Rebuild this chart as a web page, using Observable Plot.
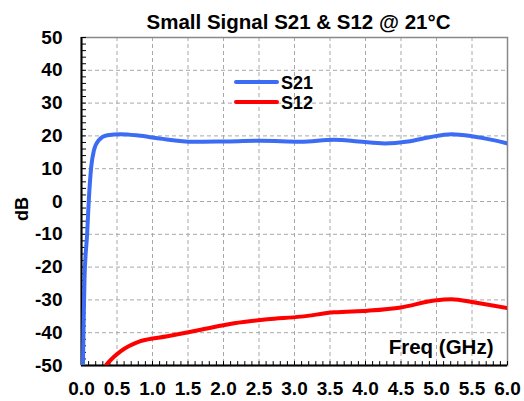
<!DOCTYPE html>
<html>
<head>
<meta charset="utf-8">
<script src="https://cdn.jsdelivr.net/npm/d3@7"></script>
<script src="https://cdn.jsdelivr.net/npm/@observablehq/plot@0.6"></script>
<style>
  html, body { margin: 0; padding: 0; background: #fff; }
  #wrap { position: relative; width: 524px; height: 401px; font-family: "Liberation Sans", Arial, sans-serif; }
  #legend { position: absolute; left: 0; top: 0; width: 524px; height: 401px; pointer-events: none; }
</style>
</head>
<body>
<div id="wrap"></div>
<script>
const title = "Small Signal S21 & S12 @ 21°C";
const xLabel = "Freq (GHz)";
const yLabel = "dB";
const xTicks = [0, 0.5, 1, 1.5, 2, 2.5, 3, 3.5, 4, 4.5, 5, 5.5, 6];
const yTicks = [-50, -40, -30, -20, -10, 0, 10, 20, 30, 40, 50];
const xMinor = d3.range(0, 61).map(i => i / 10);
const yMinor = d3.range(-25, 26).map(i => i * 2);

const s21Freq = [0.02, 0.03, 0.042, 0.08, 0.103, 0.137, 0.174, 0.244, 0.363, 0.55, 0.8, 1.1, 1.58, 2.0, 2.53, 3.09, 3.56, 3.9, 4.27, 4.6, 4.9, 5.21, 5.5, 5.8, 6.0];
const s21dB   = [-50, -37, -23.9, -9.6, 0.5, 10.6, 15.5, 18.7, 20.2, 20.5, 20.1, 19.2, 18.2, 18.3, 18.5, 18.2, 18.8, 18.3, 17.7, 18.3, 19.6, 20.5, 19.9, 18.7, 17.7];
const s12Freq = [0.34, 0.45, 0.55, 0.83, 1.21, 1.68, 2.15, 2.62, 3.09, 3.56, 4.03, 4.5, 4.97, 5.21, 5.54, 6.0];
const s12dB   = [-50, -47.5, -45.7, -42.6, -41.1, -39.1, -37.1, -35.9, -35.1, -33.8, -33.3, -32.3, -30.2, -29.8, -30.8, -32.5];

const series = [
  {name: "S21", color: "#3d6cf4", freq: s21Freq, db: s21dB},
  {name: "S12", color: "#ff0000", freq: s12Freq, db: s12dB}
];
const rows = series.flatMap(s => s.freq.map((f, i) => ({series: s.name, freq: f, db: s.db[i]})));

const font = "'Liberation Sans', Arial, sans-serif";
const tickFont = {fontWeight: "bold", fontSize: 19, fill: "#000"};
const labelFont = {fontWeight: "bold", fontSize: 20.5, fill: "#000"};

const chart = Plot.plot({
  width: 524,
  height: 401,
  marginLeft: 81,
  marginRight: 17,
  marginTop: 37,
  marginBottom: 36,
  style: {fontFamily: font, background: "#fff"},
  x: {domain: [0, 6]},
  y: {domain: [-50, 50]},
  color: {domain: series.map(s => s.name), range: series.map(s => s.color)},
  marks: [
    Plot.gridX(xTicks.slice(1, -1), {stroke: "#a8a8a8", strokeOpacity: 1, strokeDasharray: "4,3"}),
    Plot.gridY(yTicks.slice(1, -1), {stroke: "#a8a8a8", strokeOpacity: 1, strokeDasharray: "4,3"}),
    Plot.frame({stroke: "#888", strokeWidth: 1.5}),
    Plot.ruleX(xMinor, {x: d => d, y1: -50, y2: -48.8, stroke: "#000", strokeWidth: 1}),
    Plot.ruleY(yMinor, {y: d => d, x1: 0, x2: 0.07, stroke: "#000", strokeWidth: 1}),
    Plot.axisX(xTicks, {tickSize: 0, tickPadding: 16, tickFormat: d => d.toFixed(1), ...tickFont, label: null}),
    Plot.axisY(yTicks, {tickSize: 0, tickPadding: 19, tickFormat: d => String(d), ...tickFont, label: null}),
    Plot.ruleX([0], {stroke: "#000", strokeWidth: 2}),
    Plot.ruleY([-50], {stroke: "#000", strokeWidth: 2}),
    Plot.line(rows, {x: "freq", y: "db", z: "series", stroke: "series", strokeWidth: 4, curve: "monotone-x", clip: true}),
    Plot.text([xLabel], {frameAnchor: "bottom-right", textAnchor: "end", lineAnchor: "bottom", dx: -14, dy: -12, ...labelFont}),
    Plot.text([title], {frameAnchor: "top", lineAnchor: "bottom", dx: 4, dy: -9, ...labelFont})
  ]
});

const wrap = document.getElementById("wrap");
wrap.appendChild(chart);

// overlay: y-axis title and in-plot legend, as in the reference
const leg = d3.select(wrap).append("svg").attr("id", "legend").attr("width", 524).attr("height", 401);
leg.append("text").attr("transform", "translate(28,209) rotate(-90)").attr("text-anchor", "middle")
  .attr("font-family", font).attr("font-weight", "bold").attr("font-size", 18).text(yLabel);
series.forEach((s, i) => {
  const y = 82 + i * 20;
  leg.append("line").attr("x1", 236).attr("x2", 277).attr("y1", y).attr("y2", y)
    .attr("stroke", s.color).attr("stroke-width", 4).attr("stroke-linecap", "round");
  leg.append("text").attr("x", 281).attr("y", y + 6.5).text(s.name)
    .attr("font-family", font).attr("font-weight", "bold").attr("font-size", 18);
});
</script>
</body>
</html>
